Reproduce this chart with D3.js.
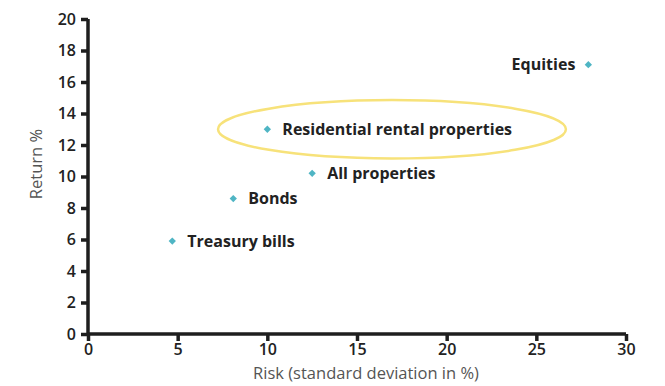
<!DOCTYPE html>
<html>
<head>
<meta charset="utf-8">
<script src="https://cdn.jsdelivr.net/npm/d3@7"></script>
<style>
  body { margin: 0; background: #fff; overflow: hidden; }
  svg { display: block; }
  text { font-family: "Open Sans", "Lato", sans-serif; }
</style>
</head>
<body>
<svg id="chart" width="665" height="386"></svg>
<script>
const assets = ['Treasury bills', 'Bonds', 'Residential rental properties', 'All properties', 'Equities'];
const risk = [4.7, 8.1, 10.0, 12.5, 27.9];
const ret = [5.9, 8.6, 13.0, 10.2, 17.1];
const labelSide = ['right', 'right', 'right', 'right', 'left'];
const xTicks = [0, 5, 10, 15, 20, 25, 30];
const yTicks = [0, 2, 4, 6, 8, 10, 12, 14, 16, 18, 20];
// highlight ring around the residential point, in data units
const ring = {cx: 16.95, cy: 13.0, rx: 9.7, ry: 1.85};

const data = assets.map((a, i) => ({name: a, x: risk[i], y: ret[i], side: labelSide[i]}));

const svg = d3.select('#chart');
const margin = {top: 19, right: 39, bottom: 52, left: 88};
const width = +svg.attr('width');
const height = +svg.attr('height');
const innerWidth = width - margin.left - margin.right;
const innerHeight = height - margin.top - margin.bottom;

const xScale = d3.scaleLinear().domain([0, 30]).range([0, innerWidth]);
const yScale = d3.scaleLinear().domain([0, 20]).range([innerHeight, 0]);

const g = svg.append('g')
    .attr('transform', 'translate(' + margin.left + ',' + margin.top + ')');

const axisColor = '#1e1e1e';

const xAxis = d3.axisBottom(xScale).tickValues(xTicks).tickSize(7).tickPadding(3);
const yAxis = d3.axisLeft(yScale).tickValues(yTicks).tickSize(7).tickPadding(5);

const gx = g.append('g')
    .attr('transform', 'translate(0,' + innerHeight + ')')
    .call(xAxis);
const gy = g.append('g').call(yAxis);

[gx, gy].forEach(ax => {
    ax.select('.domain').attr('stroke', axisColor).attr('stroke-width', 3.5)
        .attr('d', ax === gx ? 'M0,0H' + innerWidth : 'M0,' + innerHeight + 'V0');
    ax.selectAll('.tick line').attr('stroke', axisColor).attr('stroke-width', 3.5);
    ax.selectAll('.tick text').attr('fill', '#222').style('font-size', '16px').style('font-weight', 600);
});

g.append('text')
    .attr('x', 278)
    .attr('y', innerHeight + 45)
    .attr('text-anchor', 'middle')
    .attr('fill', '#555')
    .style('font-size', '16.5px')
    .text('Risk (standard deviation in %)');

g.append('text')
    .attr('transform', 'translate(-46,145) rotate(-90)')
    .attr('text-anchor', 'middle')
    .attr('fill', '#555')
    .style('font-size', '16.5px')
    .text('Return %');

g.append('ellipse')
    .attr('cx', xScale(ring.cx))
    .attr('cy', yScale(ring.cy))
    .attr('rx', xScale(ring.rx) - xScale(0))
    .attr('ry', yScale(0) - yScale(ring.ry))
    .attr('fill', 'none')
    .attr('stroke', '#f7e27a')
    .attr('stroke-width', 2.5);

const diamond = d3.symbol().type(d3.symbolDiamond2).size(34);

const pts = g.selectAll('.pt')
    .data(data)
    .enter()
    .append('g')
    .attr('transform', d => 'translate(' + xScale(d.x) + ',' + yScale(d.y) + ')');

pts.append('path')
    .attr('d', diamond)
    .attr('fill', '#4fb5c4');

pts.append('text')
    .attr('x', d => d.side === 'left' ? -13 : 15)
    .attr('dy', '0.35em')
    .attr('text-anchor', d => d.side === 'left' ? 'end' : 'start')
    .attr('fill', '#222')
    .style('font-size', '16px')
    .style('font-weight', 'bold')
    .text(d => d.name);
</script>
</body>
</html>
